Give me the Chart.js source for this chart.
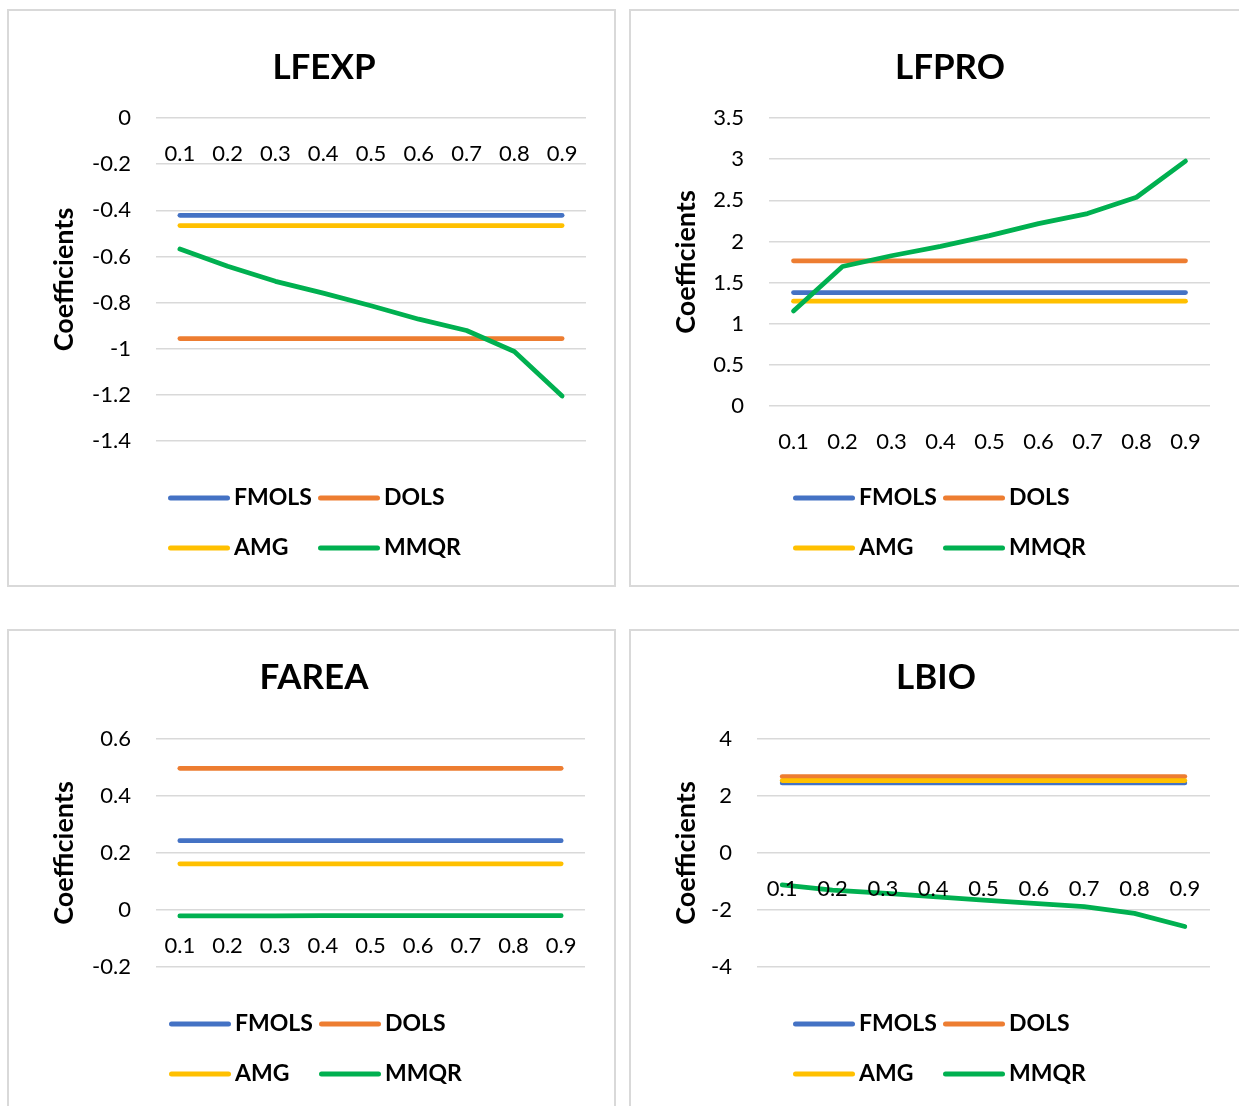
<!DOCTYPE html>
<html>
<head>
<meta charset="utf-8">
<script src="https://cdn.jsdelivr.net/npm/chart.js@4.4.1/dist/chart.umd.min.js"></script>
<style>
  html, body { margin: 0; padding: 0; background: #fff; width: 1239px; height: 1106px; overflow: hidden; }
  .panel { position: absolute; border: 2px solid #d9d9d9; background: #fff; }
  .panel canvas { display: block; }
</style>
</head>
<body>
<div class="panel" style="left:7px;top:9px;width:605px;height:574px"><canvas id="lfexp" width="605" height="574"></canvas></div>
<div class="panel" style="left:629px;top:9px;width:609px;height:574px"><canvas id="lfpro" width="609" height="574"></canvas></div>
<div class="panel" style="left:7px;top:629px;width:605px;height:486px"><canvas id="farea" width="605" height="486"></canvas></div>
<div class="panel" style="left:629px;top:629px;width:609px;height:486px"><canvas id="lbio" width="609" height="486"></canvas></div>
<script>
// quantiles on the x axis
const quantiles = ['0.1', '0.2', '0.3', '0.4', '0.5', '0.6', '0.7', '0.8', '0.9'];
const seriesNames = ['FMOLS', 'DOLS', 'AMG', 'MMQR'];
const seriesColors = ['#4472C4', '#ED7D31', '#FFC000', '#00B050'];

// LFEXP
const lfexpFmols = [-0.422, -0.422, -0.422, -0.422, -0.422, -0.422, -0.422, -0.422, -0.422];
const lfexpDols = [-0.956, -0.956, -0.956, -0.956, -0.956, -0.956, -0.956, -0.956, -0.956];
const lfexpAmg = [-0.466, -0.466, -0.466, -0.466, -0.466, -0.466, -0.466, -0.466, -0.466];
const lfexpMmqr = [-0.568, -0.643, -0.708, -0.759, -0.814, -0.872, -0.921, -1.012, -1.205];

// LFPRO
const lfproFmols = [1.378, 1.378, 1.378, 1.378, 1.378, 1.378, 1.378, 1.378, 1.378];
const lfproDols = [1.765, 1.765, 1.765, 1.765, 1.765, 1.765, 1.765, 1.765, 1.765];
const lfproAmg = [1.274, 1.274, 1.274, 1.274, 1.274, 1.274, 1.274, 1.274, 1.274];
const lfproMmqr = [1.155, 1.695, 1.826, 1.940, 2.070, 2.216, 2.338, 2.537, 2.976];

// FAREA
const fareaFmols = [0.243, 0.243, 0.243, 0.243, 0.243, 0.243, 0.243, 0.243, 0.243];
const fareaDols = [0.497, 0.497, 0.497, 0.497, 0.497, 0.497, 0.497, 0.497, 0.497];
const fareaAmg = [0.162, 0.162, 0.162, 0.162, 0.162, 0.162, 0.162, 0.162, 0.162];
const fareaMmqr = [-0.021, -0.021, -0.021, -0.020, -0.020, -0.020, -0.020, -0.020, -0.020];

// LBIO
const lbioFmols = [2.46, 2.46, 2.46, 2.46, 2.46, 2.46, 2.46, 2.46, 2.46];
const lbioDols = [2.68, 2.68, 2.68, 2.68, 2.68, 2.68, 2.68, 2.68, 2.68];
const lbioAmg = [2.54, 2.54, 2.54, 2.54, 2.54, 2.54, 2.54, 2.54, 2.54];
const lbioMmqr = [-1.12, -1.30, -1.41, -1.53, -1.65, -1.77, -1.88, -2.12, -2.58];

// y axis ranges
const lfexpTicks = { min: -1.4, max: 0, step: 0.2 };
const lfproTicks = { min: 0, max: 3.5, step: 0.5 };
const fareaTicks = { min: -0.2, max: 0.6, step: 0.2 };
const lbioTicks = { min: -4, max: 4, step: 2 };

Chart.defaults.font.family = 'Lato';
Chart.defaults.color = '#000';

// title + Excel-like 2x2 legend
const panelDecor = {
    id: 'panelDecor',
    afterDraw(chart, args, opts) {
        const ctx = chart.ctx;
        ctx.save();
        ctx.fillStyle = '#000';
        ctx.textBaseline = 'middle';
        ctx.textAlign = 'center';
        ctx.font = 'bold 35px Lato';
        ctx.fillText(opts.title, opts.titleX, opts.titleY);

        ctx.textAlign = 'left';
        ctx.font = 'bold 23px Lato';
        ctx.lineCap = 'round';
        ctx.lineWidth = 5;
        chart.data.datasets.forEach((ds, i) => {
            const x = opts.legendX + (i % 2) * 150;
            const y = opts.legendY + Math.floor(i / 2) * 50;
            ctx.strokeStyle = ds.borderColor;
            ctx.beginPath();
            ctx.moveTo(x + 2.5, y);
            ctx.lineTo(x + 59.5, y);
            ctx.stroke();
            ctx.fillText(ds.label, x + 66, y);
        });
        ctx.restore();
    }
};

function makePanel(id, title, values, range, box) {
    new Chart(document.getElementById(id), {
        type: 'line',
        data: {
            labels: quantiles,
            datasets: seriesNames.map((name, i) => ({
                label: name,
                data: values[i],
                borderColor: seriesColors[i],
                backgroundColor: seriesColors[i],
                borderWidth: 4.75,
                borderCapStyle: 'round',
                borderJoinStyle: 'round',
                pointRadius: 0,
                tension: 0,
                order: 4 - i,
            }))
        },
        options: {
            responsive: false,
            animation: false,
            events: [],
            layout: { padding: { left: 0, top: box.top, right: box.right, bottom: box.bottom } },
            plugins: {
                legend: { display: false },
                tooltip: { enabled: false },
                panelDecor: { title, titleX: box.titleX, titleY: box.titleY, legendX: box.legendX, legendY: box.legendY }
            },
            scales: {
                x: {
                    position: { y: 0 },
                    offset: true,
                    grid: { display: false, drawTicks: false },
                    border: { display: false },
                    ticks: { font: { size: 22 }, color: '#000', padding: 23, maxRotation: 0, autoSkip: false, z: 1 }
                },
                y: {
                    min: range.min,
                    max: range.max,
                    ticks: {
                        stepSize: range.step,
                        padding: 25,
                        font: { size: 22 },
                        color: '#000',
                        callback: (v) => String(Number(v.toFixed(2)))
                    },
                    grid: { color: '#d9d9d9', lineWidth: 1.5, drawTicks: false },
                    border: { display: false },
                    title: {
                        display: true,
                        text: 'Coefficients',
                        color: '#000',
                        font: { size: 27, weight: 'bold' },
                        padding: { top: 39, bottom: 0 }
                    },
                    afterFit: (s) => { s.width = box.left; }
                }
            }
        },
        plugins: [panelDecor]
    });
}

makePanel('lfexp', 'LFEXP', [lfexpFmols, lfexpDols, lfexpAmg, lfexpMmqr], lfexpTicks,
    { left: 147, top: 107, right: 28, bottom: 144, titleX: 315, titleY: 57, legendX: 159, legendY: 487 });
makePanel('lfpro', 'LFPRO', [lfproFmols, lfproDols, lfproAmg, lfproMmqr], lfproTicks,
    { left: 138, top: 107, right: 30, bottom: 179, titleX: 319, titleY: 57, legendX: 162, legendY: 487 });
makePanel('farea', 'FAREA', [fareaFmols, fareaDols, fareaAmg, fareaMmqr], fareaTicks,
    { left: 147, top: 108, right: 29, bottom: 150, titleX: 305, titleY: 47, legendX: 160, legendY: 393 });
makePanel('lbio', 'LBIO', [lbioFmols, lbioDols, lbioAmg, lbioMmqr], lbioTicks,
    { left: 126, top: 108, right: 30, bottom: 150, titleX: 305, titleY: 47, legendX: 162, legendY: 393 });
</script>
</body>
</html>
